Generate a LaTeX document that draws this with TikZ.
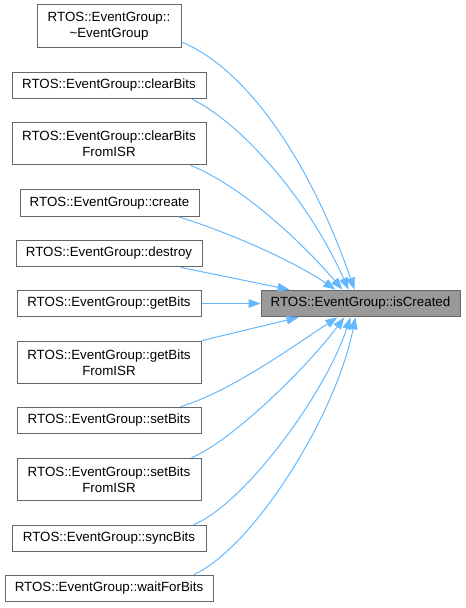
\documentclass[tikz,border=0pt]{standalone}
\usepackage{fontspec}
\setmainfont{Liberation Sans}
\usetikzlibrary{arrows.meta,calc}
\definecolor{edgeblue}{HTML}{63B8FF}
\definecolor{boxborder}{HTML}{666666}
\definecolor{tgtfill}{HTML}{999999}
\begin{document}
\begin{tikzpicture}[x=0.75pt,y=-0.75pt,
  srcbox/.style={draw=boxborder, fill=white, line width=0.75pt, inner sep=0pt,
    align=center, font=\fontsize{10}{12}\selectfont, text=black},
  tgtbox/.style={srcbox, fill=tgtfill},
  onel/.style={minimum height=20pt},
  twol/.style={minimum height=32pt},
  callarrow/.style={draw=edgeblue, line width=0.75pt, -{Triangle[length=9pt,width=6.5pt]}}]
\useasboundingbox (0,0) rectangle (465,608);
% target
\node[tgtbox, onel, minimum width=149.25pt] (tgt) at (360.5,303.5) {RTOS::EventGroup::isCreated};
% sources
\node[srcbox, twol, minimum width=108pt] (dtor) at (109,26) {RTOS::EventGroup::\\\textasciitilde EventGroup};
\node[srcbox, onel, minimum width=145.5pt] (cb) at (109,85.5) {RTOS::EventGroup::clearBits};
\node[srcbox, twol, minimum width=145.5pt] (cbi) at (109,143.5) {RTOS::EventGroup::clearBits\\FromISR};
\node[srcbox, onel, minimum width=134.25pt] (cr) at (109.5,203) {RTOS::EventGroup::create};
\node[srcbox, onel, minimum width=139.5pt] (ds) at (109,253.5) {RTOS::EventGroup::destroy};
\node[srcbox, onel, minimum width=138pt] (gb) at (109,303.5) {RTOS::EventGroup::getBits};
\node[srcbox, twol, minimum width=138pt] (gbi) at (109,362.5) {RTOS::EventGroup::getBits\\FromISR};
\node[srcbox, onel, minimum width=138pt] (sb) at (109,420.5) {RTOS::EventGroup::setBits};
\node[srcbox, twol, minimum width=138pt] (sbi) at (109,479.5) {RTOS::EventGroup::setBits\\FromISR};
\node[srcbox, onel, minimum width=145.5pt] (sy) at (109,538.5) {RTOS::EventGroup::syncBits};
\node[srcbox, onel, minimum width=156pt] (wf) at (109,588.5) {RTOS::EventGroup::waitForBits};
% edges
\draw[callarrow] ($(dtor.east)+(0,16)$) .. controls +(64,26) and +(-45,-130) .. ($(tgt.north west)+(94,0)$);
\draw[callarrow] ($(cb.south east)+(-14,0)$) .. controls +(50,25) and +(-40,-90) .. ($(tgt.north west)+(88,0)$);
\draw[callarrow] ($(cbi.south east)+(-16,0)$) .. controls +(50,20) and +(-43,-50) .. ($(tgt.north west)+(82,0)$);
\draw[callarrow] ($(cr.south east)+(-21,0)$) .. controls +(52,16) and +(-41,-28) .. ($(tgt.north west)+(75,0)$);
\draw[callarrow] ($(ds.south east)+(-22,0)$) -- ($(tgt.north west)+(29,0)$);
\draw[callarrow] (gb.east) -- (tgt.west);
\draw[callarrow] (gbi.north east) -- ($(tgt.south west)+(38,0)$);
\draw[callarrow] ($(sb.north east)+(-21,0)$) .. controls +(50,-15) and +(-43,28) .. ($(tgt.south west)+(77,0)$);
\draw[callarrow] ($(sbi.north east)+(-10,0)$) .. controls +(39,-16) and +(-40,53) .. ($(tgt.south west)+(84,0)$);
\draw[callarrow] ($(sy.north east)+(-13,0)$) .. controls +(50,-20) and +(-26,78) .. ($(tgt.south west)+(90,0)$);
\draw[callarrow] ($(wf.north east)+(-20,0)$) .. controls +(57,-25) and +(-21,103) .. ($(tgt.south west)+(95,0)$);
\end{tikzpicture}
\end{document}
